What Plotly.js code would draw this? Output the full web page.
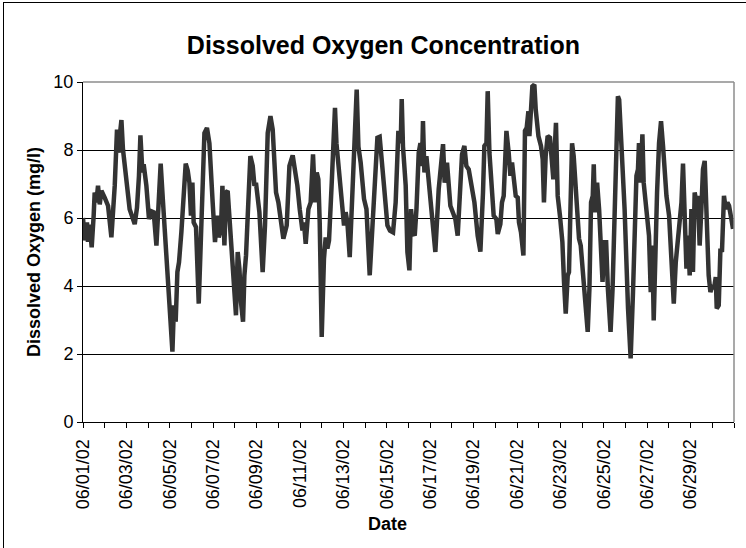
<!DOCTYPE html>
<html>
<head>
<meta charset="utf-8">
<script src="https://cdn.plot.ly/plotly-3.0.1.min.js"></script>
<style>
  html, body { margin: 0; padding: 0; background: #fff; }
  #wrap { position: relative; width: 746px; height: 548px; overflow: hidden; }
  #chart { position: absolute; left: 0; top: 0; width: 746px; height: 548px; }
  #frame { position: absolute; left: 3px; top: 2px; width: 760px; height: 600px;
           border-left: 1px solid #000; border-top: 1px solid #000; pointer-events: none; }
</style>
</head>
<body>
<div id="wrap"><div id="chart"></div><div id="frame"></div></div>
<script>
// Hours elapsed since 06/01/02 00:00 and dissolved oxygen readings (mg/l)
const hours = [
  0.0, 1.9, 4.4, 5.5, 7.4, 9.6, 11.8, 12.9, 14.8, 16.6, 18.5, 20.4, 24.0, 27.7, 31.4, 35.1, 37.6, 39.5, 40.6, 42.5,
  44.2, 48.0, 51.6, 57.2, 59.7, 61.9, 63.5, 65.7, 67.1, 70.1, 73.0, 75.6, 78.2, 81.2, 84.1, 85.9, 88.5, 92.9, 95.9, 98.9,
  100.6, 102.5, 104.4, 106.2, 108.8, 111.4, 113.6, 115.8, 117.7, 119.4, 121.0, 122.4, 125.0, 128.0, 130.5, 132.4, 134.3, 137.1, 139.8, 143.4,
  146.0, 148.2, 150.1, 152.6, 154.2, 156.4, 158.2, 160.0, 162.6, 165.6, 169.2, 171.1, 173.0, 174.7, 177.0, 178.5, 180.3, 182.2, 185.1, 187.7,
  189.6, 191.3, 195.1, 198.7, 201.3, 204.3, 207.3, 209.8, 213.5, 216.1, 219.0, 221.6, 225.3, 228.3, 231.9, 235.6, 237.1, 239.7, 242.7, 244.4,
  246.3, 249.3, 251.8, 254.4, 256.6, 258.5, 260.3, 261.8, 264.0, 266.5, 268.4, 270.3, 272.1, 275.1, 277.6, 278.7, 280.3, 283.1, 286.9, 288.7,
  290.5, 292.4, 295.0, 297.9, 300.8, 302.7, 304.6, 307.1, 310.8, 313.5, 317.1, 320.1, 323.7, 325.6, 328.1, 330.4, 332.9, 336.7, 339.5, 342.9,
  345.8, 348.8, 351.4, 352.5, 353.9, 356.9, 358.8, 361.0, 362.8, 365.0, 366.9, 368.8, 371.3, 373.2, 374.9, 376.0, 377.6, 379.8, 382.3, 386.0,
  389.7, 393.4, 395.9, 398.2, 400.0, 402.6, 406.3, 409.2, 411.8, 414.4, 416.6, 419.2, 421.8, 424.0, 426.6, 430.2, 432.9, 436.5, 439.5, 442.4,
  443.9, 446.2, 447.6, 449.5, 451.2, 454.2, 457.2, 458.7, 461.6, 463.4, 465.3, 468.3, 470.8, 472.7, 474.5, 477.5, 478.6, 480.8, 482.2, 484.4,
  487.1, 488.8, 490.7, 492.6, 493.7, 495.5, 497.0, 499.2, 500.7, 503.7, 506.5, 508.4, 509.8, 511.7, 513.9, 516.5, 518.3, 520.2, 523.1, 525.0,
  527.5, 530.2, 532.0, 533.9, 536.1, 537.5, 539.1, 540.9, 542.7, 544.2, 546.1, 548.6, 550.5, 553.4, 556.0, 558.2, 560.1, 561.9, 563.8, 564.9,
  566.3, 568.6, 570.8, 573.0, 574.6, 576.8, 578.6, 580.5, 583.5, 585.7, 587.5, 589.4, 591.6, 593.0, 595.3, 599.0, 602.8, 605.7, 608.3, 610.2,
  612.1, 613.8, 614.9, 616.5, 618.7, 620.1, 622.3, 624.2, 626.0, 627.9, 629.7, 631.2, 633.1, 634.9, 637.1, 639.3, 641.5, 643.4, 645.3, 648.2,
  650.8, 653.4, 655.6, 658.1, 660.0, 661.9, 663.6, 665.5, 667.4, 669.1, 671.0, 672.9, 674.6, 676.5, 678.4, 680.1, 682.0, 683.9, 685.7, 687.6,
  689.5, 692.0, 693.9, 696.1, 697.9, 699.8, 700.9, 703.1, 705.0, 706.7, 708.9, 710.8, 712.7, 714.5, 717.1, 718.9
];
const oxygen = [
  6.00, 5.34, 5.87, 5.30, 5.80, 5.14, 6.07, 6.75, 6.46, 6.95, 6.40, 6.80, 6.60, 6.36, 5.43, 6.95, 8.60, 7.92, 8.40, 8.88,
  8.02, 7.24, 6.26, 5.82, 6.30, 7.24, 8.43, 7.34, 7.58, 6.95, 5.97, 6.20, 6.17, 5.19, 6.56, 7.60, 6.46, 4.41, 3.14, 2.07,
  3.43, 2.95, 4.41, 4.70, 5.58, 6.95, 7.60, 7.40, 7.04, 6.07, 7.04, 5.87, 5.73, 3.48, 5.48, 7.43, 8.50, 8.65, 8.20, 6.46,
  5.29, 6.07, 5.43, 5.68, 6.95, 5.19, 6.75, 6.80, 5.78, 4.70, 3.14, 5.00, 4.51, 3.53, 2.95, 4.31, 4.90, 6.07, 7.82, 7.53,
  6.95, 7.04, 6.17, 4.41, 5.78, 8.50, 9.00, 8.60, 6.75, 6.46, 5.97, 5.39, 5.78, 7.53, 7.84, 7.24, 6.95, 6.26, 5.63, 5.87,
  5.24, 6.26, 6.46, 7.87, 6.46, 7.34, 7.14, 5.87, 2.50, 4.80, 5.43, 5.10, 5.34, 7.04, 8.80, 9.24, 8.20, 7.34, 6.46, 5.78,
  6.17, 5.87, 4.85, 6.75, 8.02, 9.78, 8.10, 7.63, 6.56, 6.26, 4.31, 5.78, 7.43, 8.36, 8.39, 7.53, 6.95, 5.78, 5.63, 5.58,
  6.46, 8.56, 8.20, 9.50, 8.10, 6.95, 5.00, 4.46, 6.26, 5.58, 5.48, 6.26, 7.92, 8.20, 7.53, 8.85, 7.34, 7.82, 7.04, 6.26,
  5.00, 6.85, 7.63, 8.17, 7.04, 7.63, 6.36, 6.17, 5.97, 5.48, 6.95, 7.87, 8.12, 7.53, 7.43, 6.75, 6.46, 5.48, 5.01, 6.75,
  8.12, 8.20, 9.73, 7.92, 7.24, 6.07, 5.97, 5.53, 5.82, 6.46, 6.65, 8.56, 7.92, 7.24, 7.63, 7.04, 6.65, 6.60, 5.87, 5.58,
  4.90, 8.56, 8.65, 9.14, 8.41, 9.19, 9.87, 9.92, 9.19, 8.41, 8.12, 7.73, 6.46, 7.82, 8.41, 8.36, 7.82, 7.14, 8.80, 6.65,
  6.07, 5.29, 4.12, 3.19, 4.31, 4.41, 6.26, 8.20, 7.82, 7.04, 6.26, 5.39, 5.19, 4.12, 3.14, 2.65, 3.92, 6.46, 6.65, 7.58,
  6.17, 7.04, 6.26, 5.10, 4.12, 5.29, 5.29, 3.92, 2.65, 3.92, 5.68, 7.24, 9.58, 9.48, 8.20, 6.26, 3.34, 1.87, 3.82, 5.48,
  7.24, 7.43, 8.20, 7.04, 8.46, 7.04, 6.36, 5.97, 5.48, 3.82, 5.19, 2.99, 5.78, 6.75, 8.20, 8.85, 8.12, 7.43, 6.65, 6.07,
  4.70, 3.48, 4.70, 5.39, 6.26, 6.46, 7.60, 5.58, 4.51, 5.48, 4.31, 6.26, 4.41, 6.75, 6.46, 6.65, 5.19, 6.26, 7.43, 7.68,
  6.07, 4.31, 3.82, 4.02, 3.92, 4.26, 3.34, 3.43, 5.10, 5.00, 6.65, 6.26, 6.46, 6.36, 5.97, 5.68
];
// Axis ticks: one per day, a label on every other day
const tickDays = ['2002-06-01','2002-06-02','2002-06-03','2002-06-04','2002-06-05','2002-06-06','2002-06-07','2002-06-08',
  '2002-06-09','2002-06-10','2002-06-11','2002-06-12','2002-06-13','2002-06-14','2002-06-15','2002-06-16','2002-06-17',
  '2002-06-18','2002-06-19','2002-06-20','2002-06-21','2002-06-22','2002-06-23','2002-06-24','2002-06-25','2002-06-26',
  '2002-06-27','2002-06-28','2002-06-29','2002-06-30','2002-07-01'];
const tickLabels = ['06/01/02','','06/03/02','','06/05/02','','06/07/02','','06/09/02','','06/11/02','','06/13/02','',
  '06/15/02','','06/17/02','','06/19/02','','06/21/02','','06/23/02','','06/25/02','','06/27/02','','06/29/02','',''];
const yTicks = [0, 2, 4, 6, 8, 10];

const start = Date.UTC(2002, 5, 1, 0, 0, 0);
function pad(n) { return (n < 10 ? '0' : '') + n; }
function toDateStr(h) {
  const d = new Date(start + h * 3600000);
  return d.getUTCFullYear() + '-' + pad(d.getUTCMonth() + 1) + '-' + pad(d.getUTCDate()) + ' ' +
         pad(d.getUTCHours()) + ':' + pad(d.getUTCMinutes()) + ':' + pad(d.getUTCSeconds());
}
const times = hours.map(toDateStr);

const FONT = 'Liberation Sans, Arial, sans-serif';

const trace = {
  x: times, y: oxygen, type: 'scatter', mode: 'lines',
  line: { color: '#333333', width: 4.5, shape: 'linear' },
  hoverinfo: 'skip'
};

const layout = {
  width: 746, height: 548,
  margin: { l: 83, r: 12, t: 82, b: 126 },
  paper_bgcolor: '#ffffff', plot_bgcolor: '#ffffff',
  showlegend: false,
  font: { family: FONT, color: '#000', size: 18 },
  title: {
    text: '<b>Dissolved Oxygen Concentration</b>',
    font: { family: FONT, size: 25, color: '#000' },
    xref: 'container', x: 0.514, xanchor: 'center',
    yref: 'container', y: 0.918, yanchor: 'middle'
  },
  xaxis: {
    type: 'date',
    range: ['2002-06-01', '2002-07-01'],
    tickmode: 'array', tickvals: tickDays, ticktext: tickLabels,
    tickangle: -90,
    ticks: 'outside', ticklen: 5, tickwidth: 1, tickcolor: '#000',
    ticklabelstandoff: 4,
    showline: true, linecolor: '#000', linewidth: 1,
    showgrid: false, zeroline: false,
    tickfont: { family: FONT, size: 18, color: '#000' },
    fixedrange: true
  },
  yaxis: {
    range: [0, 10],
    tickmode: 'array', tickvals: yTicks,
    ticks: 'outside', ticklen: 5, tickwidth: 1, tickcolor: '#000',
    showline: true, linecolor: '#000', linewidth: 1,
    showgrid: true, gridcolor: '#000', gridwidth: 1,
    zeroline: false,
    tickfont: { family: FONT, size: 18, color: '#000' },
    fixedrange: true
  },
  shapes: [
    { type: 'line', xref: 'paper', yref: 'paper', x0: 0, x1: 1, y0: 1, y1: 1, line: { color: '#8c8c8c', width: 1.5 } },
    { type: 'line', xref: 'paper', yref: 'paper', x0: 1, x1: 1, y0: 0, y1: 1, line: { color: '#8c8c8c', width: 1.5 } }
  ],
  annotations: [
    { text: '<b>Dissolved Oxygen (mg/l)</b>', xref: 'paper', yref: 'paper',
      x: -0.0753, y: 0.5, xanchor: 'center', yanchor: 'middle', textangle: -90,
      showarrow: false, font: { family: FONT, size: 18, color: '#000' } },
    { text: '<b>Date</b>', xref: 'paper', yref: 'paper',
      x: 0.467, y: -0.30, xanchor: 'center', yanchor: 'middle',
      showarrow: false, font: { family: FONT, size: 18, color: '#000' } }
  ]
};

Plotly.newPlot('chart', [trace], layout, { displayModeBar: false, staticPlot: true });
</script>
</body>
</html>
